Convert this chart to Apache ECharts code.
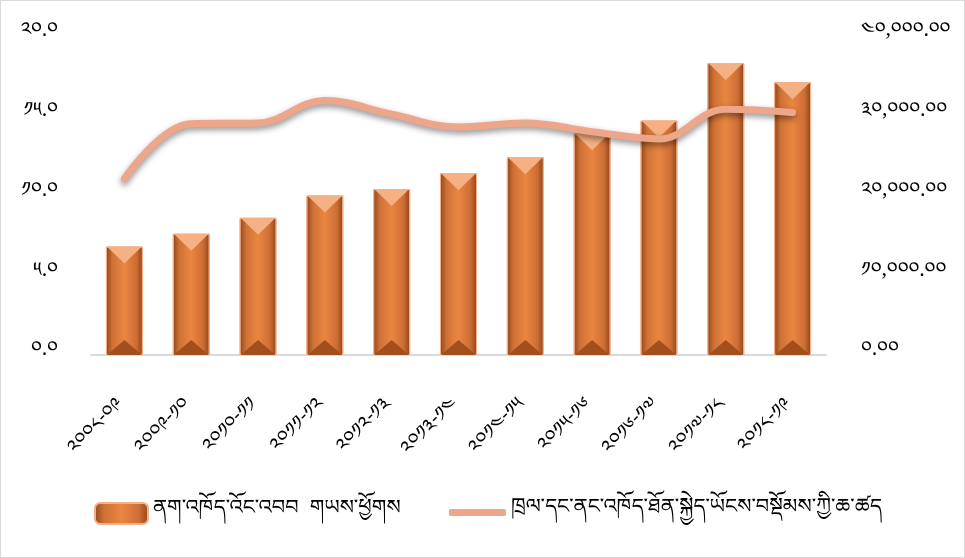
<!DOCTYPE html>
<html>
<head>
<meta charset="utf-8">
<script src="https://cdn.jsdelivr.net/npm/echarts@6/dist/echarts.min.js"></script>
<style>
  html, body { margin: 0; padding: 0; background: #fff; }
  #chart { width: 963px; height: 556px; border: 1px solid #d9d9d9; }
</style>
</head>
<body>
<div id="chart"></div>
<script>
  // ལོ་རིམ
  var categories = ['༢༠༠༨-༠༩', '༢༠༠༩-༡༠', '༢༠༡༠-༡༡', '༢༠༡༡-༡༢', '༢༠༡༢-༡༣', '༢༠༡༣-༡༤',
    '༢༠༡༤-༡༥', '༢༠༡༥-༡༦', '༢༠༡༦-༡༧', '༢༠༡༧-༡༨', '༢༠༡༨-༡༩']
  // bars: revenue, right axis
  var revenueValues = [13600, 15200, 17200, 20000, 20800, 22800, 24800, 27800, 29400, 36600, 34200]
  // line: ratio, left axis
  var ratioValues = [11.05, 14.5, 14.55, 15.95, 15.1, 14.3, 14.55, 14.0, 13.55, 15.4, 15.2]
  var leftTickLabels = ['༠.༠', '༥.༠', '༡༠.༠', '༡༥.༠', '༢༠.༠']
  var rightTickLabels = ['༠.༠༠', '༡༠,༠༠༠.༠༠', '༢༠,༠༠༠.༠༠', '༣༠,༠༠༠.༠༠', '༤༠,༠༠༠.༠༠']
  var barName = 'ནག་འཁོད་འོང་འབབ  གཡས་ཕྱོགས'
  var lineName = 'ཁྲལ་དང་ནང་འཁོད་ཐོན་སྐྱེད་ཡོངས་བསྡོམས་ཀྱི་ཆ་ཚད'

  var font = '"Noto Serif Tibetan", "Noto Sans Tibetan", "Jomolhari", "Microsoft Himalaya", "DejaVu Sans", sans-serif'

  var barFill = new echarts.graphic.LinearGradient(0, 0, 1, 0, [
    { offset: 0, color: '#914617' },
    { offset: 0.18, color: '#CF7136' },
    { offset: 0.5, color: '#EA8641' },
    { offset: 0.82, color: '#CD6E36' },
    { offset: 1, color: '#8E4517' }
  ])

  var chart = echarts.init(document.getElementById('chart'))
  chart.setOption({
    backgroundColor: '#fff',
    textStyle: { fontFamily: font },
    grid: { left: 90, right: 138, top: 35, bottom: 202, containLabel: false },
    legend: [{
      data: [barName],
      left: 88,
      top: 496,
      itemWidth: 53,
      itemHeight: 21,
      itemGap: 6,
      textStyle: { fontSize: 21, color: '#000', fontFamily: font }
    }, {
      data: [{ name: lineName, icon: 'roundRect' }],
      left: 443,
      top: 496,
      itemWidth: 57,
      itemHeight: 7,
      textStyle: { fontSize: 21, color: '#000', fontFamily: font }
    }],
    xAxis: {
      type: 'category',
      data: categories,
      axisLine: { lineStyle: { color: '#d9d9d9', width: 2 } },
      axisTick: { show: false },
      axisLabel: { rotate: 45, margin: 50, fontSize: 20, color: '#000', interval: 0 }
    },
    yAxis: [{
      type: 'value',
      min: 0, max: 20, interval: 5,
      position: 'left',
      splitLine: { show: false },
      axisLine: { show: false },
      axisLabel: {
        margin: 33, fontSize: 20, color: '#000',
        formatter: function (v, i) { return leftTickLabels[i] }
      }
    }, {
      type: 'value',
      min: 0, max: 40000, interval: 10000,
      position: 'right',
      splitLine: { show: false },
      axisLine: { show: false },
      axisLabel: {
        margin: 35, fontSize: 20, color: '#000',
        formatter: function (v, i) { return rightTickLabels[i] }
      }
    }],
    series: [{
      name: barName,
      type: 'bar',
      yAxisIndex: 1,
      barWidth: 37,
      data: revenueValues,
      itemStyle: { color: barFill, borderColor: '#F4B08C', borderWidth: 1 },
      z: 2
    }, {
      // top bevel
      type: 'pictorialBar',
      yAxisIndex: 1,
      symbol: 'triangle',
      symbolRotate: 180,
      symbolSize: [35, 17],
      symbolPosition: 'end',
      data: revenueValues,
      itemStyle: { color: '#F5B183' },
      silent: true,
      z: 3
    }, {
      // bottom bevel
      type: 'pictorialBar',
      yAxisIndex: 1,
      symbol: 'triangle',
      symbolSize: [35, 15],
      symbolPosition: 'start',
      data: revenueValues,
      itemStyle: { color: '#A24F1D' },
      silent: true,
      z: 3
    }, {
      name: lineName,
      type: 'line',
      yAxisIndex: 0,
      smooth: 0.4,
      symbol: 'none',
      data: ratioValues,
      lineStyle: {
        color: '#EEA68A', width: 7, cap: 'round',
        shadowColor: 'rgba(0,0,0,0.45)', shadowBlur: 6, shadowOffsetY: 3
      },
      itemStyle: { color: '#EEA68A' },
      z: 5
    }]
  })
</script>
</body>
</html>
